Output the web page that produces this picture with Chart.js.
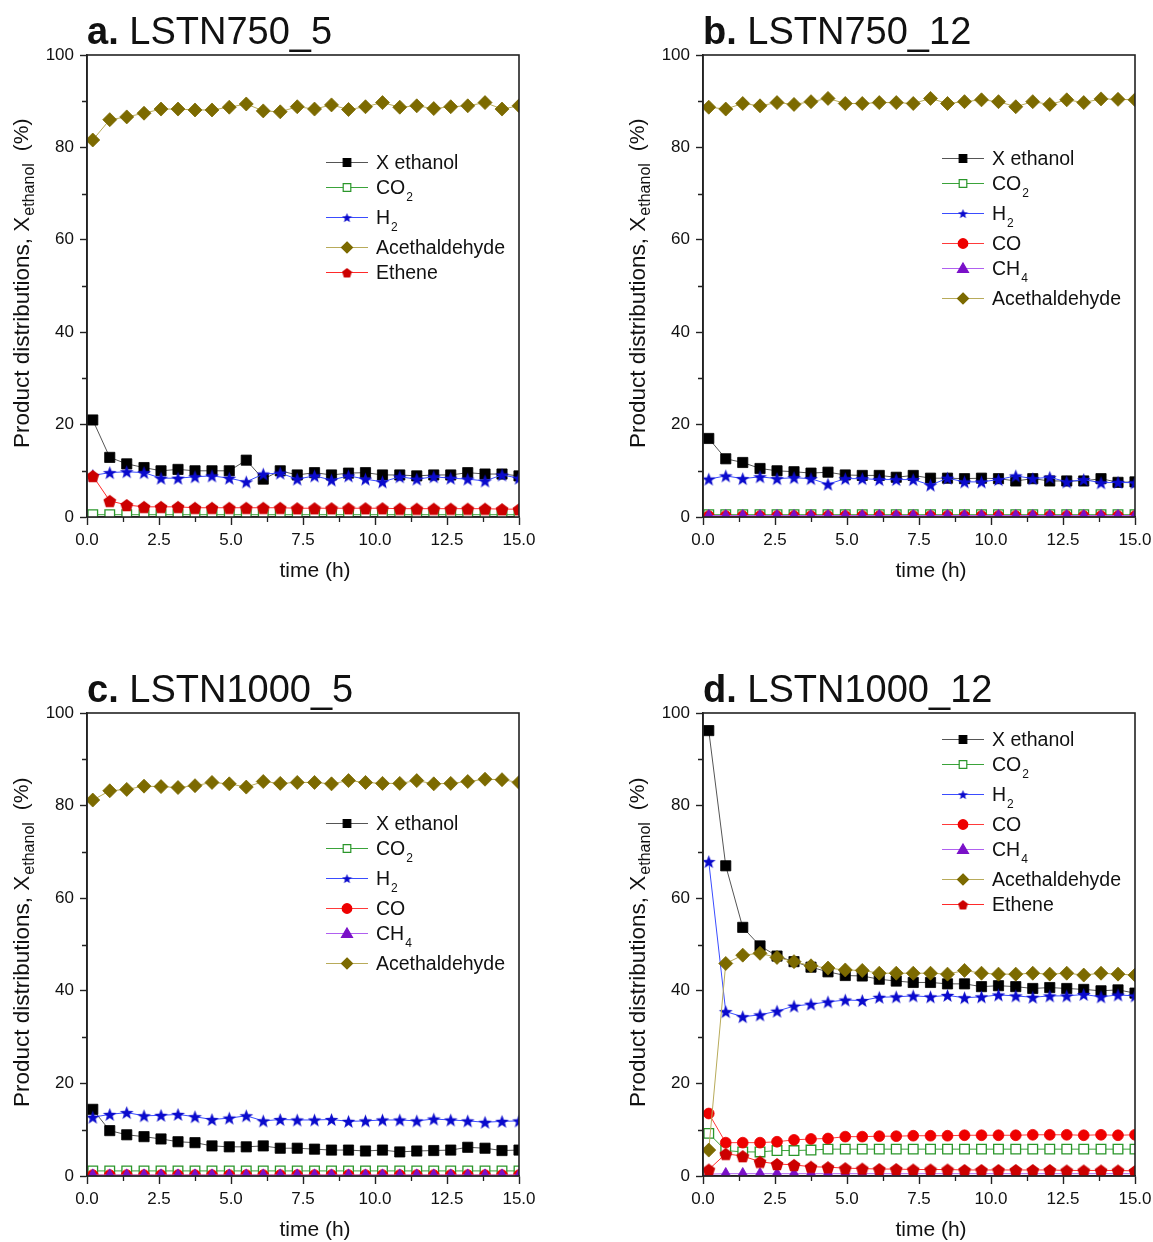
<!DOCTYPE html>
<html>
<head>
<meta charset="utf-8">
<script src="https://cdn.jsdelivr.net/npm/chart.js@4.4.0/dist/chart.umd.min.js"></script>
<style>
  body { margin: 0; background: #fff; }
  #wrap { position: relative; width: 1153px; height: 1242px; }
  canvas { position: absolute; }
</style>
</head>
<body>
<div id="wrap">
  <canvas id="chartA" width="576" height="621" style="left:0;top:0"></canvas>
  <canvas id="chartB" width="577" height="621" style="left:576px;top:0"></canvas>
  <canvas id="chartC" width="576" height="621" style="left:0;top:621px"></canvas>
  <canvas id="chartD" width="577" height="621" style="left:576px;top:621px"></canvas>
</div>
<script>
const FONT = "'Liberation Sans', Arial, sans-serif";

// sampling times (h)
const times = [0.2, 0.79, 1.38, 1.98, 2.57, 3.16, 3.75, 4.34, 4.94, 5.53, 6.12, 6.71, 7.30,
               7.90, 8.49, 9.08, 9.67, 10.26, 10.86, 11.45, 12.04, 12.63, 13.22, 13.82, 14.41, 15.0];

// a. LSTN750_5
const ethanolA = [21.0, 12.9, 11.5, 10.7, 10.0, 10.3, 10.0, 10.0, 10.0, 12.3, 8.2, 10.0, 9.1,
                  9.6, 9.1, 9.5, 9.6, 9.1, 9.1, 8.9, 9.1, 9.1, 9.6, 9.3, 9.3, 8.9];
const co2A = [0.5, 0.5, 0.5, 0.5, 0.5, 0.5, 0.5, 0.5, 0.5, 0.5, 0.5, 0.5, 0.5,
              0.5, 0.5, 0.5, 0.5, 0.5, 0.5, 0.5, 0.5, 0.5, 0.5, 0.5, 0.5, 0.5];
const h2A = [9.0, 9.6, 9.8, 9.6, 8.4, 8.4, 8.7, 8.9, 8.4, 7.6, 9.3, 9.5, 8.2,
             8.9, 8.0, 8.9, 8.2, 7.6, 8.7, 8.2, 8.7, 8.4, 8.2, 7.8, 9.1, 8.4];
const acetA = [81.6, 86.0, 86.6, 87.4, 88.3, 88.3, 88.1, 88.1, 88.7, 89.4, 87.9, 87.7, 88.8,
               88.3, 89.2, 88.2, 88.8, 89.7, 88.7, 89.0, 88.4, 88.8, 89.0, 89.7, 88.3, 89.0];
const etheneA = [8.9, 3.5, 2.6, 2.2, 2.2, 2.2, 2.0, 2.0, 2.0, 2.0, 2.0, 2.0, 1.9,
                 1.9, 1.9, 1.9, 1.9, 1.9, 1.8, 1.8, 1.8, 1.8, 1.8, 1.8, 1.7, 1.7];

// b. LSTN750_12
const ethanolB = [17.0, 12.6, 11.8, 10.5, 10.0, 9.8, 9.5, 9.7, 9.1, 9.0, 9.0, 8.6, 9.0,
                  8.4, 8.4, 8.3, 8.4, 8.3, 7.8, 8.3, 7.8, 7.8, 7.8, 8.3, 7.5, 7.6];
const co2B = [0.5, 0.5, 0.5, 0.5, 0.5, 0.5, 0.5, 0.5, 0.5, 0.5, 0.5, 0.5, 0.5,
              0.5, 0.5, 0.5, 0.5, 0.5, 0.5, 0.5, 0.5, 0.5, 0.5, 0.5, 0.5, 0.5];
const h2B = [8.2, 8.9, 8.3, 8.7, 8.3, 8.5, 8.3, 7.1, 8.3, 8.3, 8.1, 8.1, 8.1,
             6.9, 8.4, 7.6, 7.6, 8.1, 8.9, 8.3, 8.6, 7.6, 8.1, 7.4, 7.5, 7.4];
const coB = [0.2, 0.2, 0.2, 0.2, 0.2, 0.2, 0.2, 0.2, 0.2, 0.2, 0.2, 0.2, 0.2,
             0.2, 0.2, 0.2, 0.2, 0.2, 0.2, 0.2, 0.2, 0.2, 0.2, 0.2, 0.2, 0.2];
const ch4B = [0.3, 0.3, 0.3, 0.3, 0.3, 0.3, 0.3, 0.3, 0.3, 0.3, 0.3, 0.3, 0.3,
              0.3, 0.3, 0.3, 0.3, 0.3, 0.3, 0.3, 0.3, 0.3, 0.3, 0.3, 0.3, 0.3];
const acetB = [88.7, 88.3, 89.5, 89.0, 89.7, 89.3, 89.9, 90.6, 89.5, 89.5, 89.7, 89.7, 89.5,
               90.6, 89.5, 89.9, 90.3, 89.9, 88.8, 89.9, 89.3, 90.3, 89.7, 90.5, 90.4, 90.3];

// c. LSTN1000_5
const ethanolC = [14.4, 9.8, 8.9, 8.5, 8.0, 7.4, 7.2, 6.5, 6.3, 6.3, 6.5, 6.0, 6.0,
                  5.8, 5.6, 5.6, 5.4, 5.6, 5.2, 5.4, 5.5, 5.6, 6.2, 6.0, 5.5, 5.6];
const co2C = [1.1, 1.1, 1.1, 1.1, 1.1, 1.1, 1.1, 1.1, 1.1, 1.1, 1.1, 1.1, 1.1,
              1.1, 1.1, 1.1, 1.1, 1.1, 1.1, 1.1, 1.1, 1.1, 1.1, 1.1, 1.1, 1.1];
const h2C = [12.7, 13.3, 13.7, 13.0, 13.1, 13.3, 12.8, 12.2, 12.5, 13.0, 11.9, 12.2, 12.1,
             12.1, 12.2, 11.8, 11.9, 12.1, 12.1, 11.9, 12.3, 12.1, 11.9, 11.6, 11.8, 11.9];
const coC = [0.2, 0.2, 0.2, 0.2, 0.2, 0.2, 0.2, 0.2, 0.2, 0.2, 0.2, 0.2, 0.2,
             0.2, 0.2, 0.2, 0.2, 0.2, 0.2, 0.2, 0.2, 0.2, 0.2, 0.2, 0.2, 0.2];
const ch4C = [0.2, 0.2, 0.2, 0.2, 0.2, 0.2, 0.2, 0.2, 0.2, 0.2, 0.2, 0.2, 0.2,
              0.2, 0.2, 0.2, 0.2, 0.2, 0.2, 0.2, 0.2, 0.2, 0.2, 0.2, 0.2, 0.2];
const acetC = [81.2, 83.2, 83.5, 84.2, 84.1, 83.9, 84.3, 85.0, 84.7, 84.0, 85.2, 84.8, 85.0,
               85.0, 84.7, 85.4, 85.0, 84.8, 84.8, 85.4, 84.7, 84.8, 85.2, 85.7, 85.6, 85.0];

// d. LSTN1000_12
const ethanolD = [96.2, 67.0, 53.7, 49.7, 47.5, 46.3, 45.1, 44.1, 43.3, 43.2, 42.5, 42.1, 41.8,
                  41.8, 41.5, 41.5, 40.9, 41.1, 40.9, 40.5, 40.7, 40.5, 40.3, 40.0, 40.2, 39.5];
const co2D = [9.2, 5.5, 5.2, 5.2, 5.5, 5.5, 5.6, 5.8, 5.8, 5.8, 5.8, 5.8, 5.8,
              5.8, 5.8, 5.8, 5.8, 5.8, 5.8, 5.8, 5.8, 5.8, 5.8, 5.8, 5.8, 5.8];
const h2D = [67.9, 35.5, 34.4, 34.8, 35.6, 36.7, 37.1, 37.6, 38.0, 37.9, 38.6, 38.7, 38.9,
             38.7, 39.0, 38.5, 38.7, 39.1, 38.9, 38.6, 38.9, 38.9, 39.2, 38.7, 39.1, 38.9];
const coD = [13.5, 7.2, 7.2, 7.2, 7.4, 7.8, 8.0, 8.1, 8.5, 8.5, 8.6, 8.6, 8.7,
             8.7, 8.7, 8.8, 8.8, 8.8, 8.8, 8.9, 8.9, 8.9, 8.8, 8.9, 8.8, 8.9];
const ch4D = [0.4, 0.5, 0.5, 0.5, 0.5, 0.5, 0.5, 0.5, 0.5, 0.5, 0.5, 0.5, 0.5,
              0.5, 0.5, 0.5, 0.5, 0.5, 0.5, 0.5, 0.5, 0.5, 0.5, 0.5, 0.5, 0.5];
const acetD = [5.6, 45.9, 47.7, 48.1, 47.2, 46.3, 45.4, 44.9, 44.5, 44.4, 43.8, 43.8, 43.8,
               43.8, 43.6, 44.4, 43.8, 43.6, 43.6, 43.8, 43.6, 43.8, 43.4, 43.8, 43.6, 43.4];
const etheneD = [1.4, 4.8, 4.3, 3.1, 2.6, 2.4, 2.0, 1.9, 1.7, 1.6, 1.5, 1.5, 1.4,
                 1.4, 1.4, 1.3, 1.3, 1.3, 1.3, 1.3, 1.3, 1.2, 1.2, 1.2, 1.2, 1.1];

const xTicks = ['0.0', '2.5', '5.0', '7.5', '10.0', '12.5', '15.0'];
const yTicks = ['0', '20', '40', '60', '80', '100'];

// filled star / pentagon markers (not built into Chart.js)
function makeShape(kind, size, color) {
  const c = document.createElement('canvas');
  c.width = c.height = size;
  const g = c.getContext('2d');
  const R = size / 2 - 0.3;
  const steps = kind === 'star' ? 10 : 5;
  const cy = kind === 'star' ? size / 2 + 0.6 : size / 2 + 0.8;
  g.beginPath();
  for (let i = 0; i < steps; i++) {
    const rad = (kind === 'star' && i % 2) ? R * 0.42 : R;
    const ang = -Math.PI / 2 + i * 2 * Math.PI / steps;
    const px = size / 2 + rad * Math.cos(ang), py = cy + rad * Math.sin(ang);
    i ? g.lineTo(px, py) : g.moveTo(px, py);
  }
  g.closePath();
  g.fillStyle = color;
  g.fill();
  return c;
}

const styles = {
  'X ethanol':     { text: 'X ethanol', sub: '', marker: 'rect', radius: 7.2, line: '#555', fill: '#000', stroke: '#000' },
  'CO2':           { text: 'CO', sub: '2', marker: 'rect', radius: 6.8, line: '#3aa33a', fill: '#fff', stroke: '#2a962a', open: true },
  'H2':            { text: 'H', sub: '2', marker: makeShape('star', 15, '#0a0acc'), radius: 7, line: '#3a4cff', fill: '#0a0acc', stroke: '#0a0acc', small: makeShape('star', 11, '#0a0acc') },
  'CO':            { text: 'CO', sub: '', marker: 'circle', radius: 5.4, line: '#ff3a3a', fill: '#ee0000', stroke: '#ee0000' },
  'CH4':           { text: 'CH', sub: '4', marker: 'triangle', radius: 6.2, line: '#b060f0', fill: '#7a10c8', stroke: '#7a10c8' },
  'Acethaldehyde': { text: 'Acethaldehyde', sub: '', marker: 'rectRot', radius: 7, line: '#b8ab5a', fill: '#7c6a00', stroke: '#7c6a00' },
  'Ethene':        { text: 'Ethene', sub: '', marker: makeShape('pentagon', 14, '#cc0000'), radius: 7, line: '#ff2a2a', fill: '#cc0000', stroke: '#cc0000', small: makeShape('pentagon', 11, '#cc0000') }
};

function drawLegendMarker(ctx, s, x, y) {
  ctx.fillStyle = s.fill;
  ctx.strokeStyle = s.stroke;
  ctx.lineWidth = 1.2;
  if (s.small) { ctx.drawImage(s.small, x - 5.5, y - 5.5); return; }
  ctx.beginPath();
  if (s.marker === 'rect') ctx.rect(x - 3.8, y - 3.8, 7.6, 7.6);
  else if (s.marker === 'rectRot') { ctx.moveTo(x, y - 5.5); ctx.lineTo(x + 5.5, y); ctx.lineTo(x, y + 5.5); ctx.lineTo(x - 5.5, y); ctx.closePath(); }
  else if (s.marker === 'circle') ctx.arc(x, y, 4.8, 0, Math.PI * 2);
  else if (s.marker === 'triangle') { ctx.moveTo(x, y - 5.5); ctx.lineTo(x + 5.5, y + 4); ctx.lineTo(x - 5.5, y + 4); ctx.closePath(); }
  ctx.fill();
  ctx.stroke();
}

const panelDecor = {
  id: 'panelDecor',
  afterDraw(chart, args, o) {
    const { ctx, chartArea: a } = chart;
    const xs = chart.scales.x, ys = chart.scales.y;
    ctx.save();
    ctx.strokeStyle = '#222';
    ctx.lineWidth = 1.6;
    ctx.strokeRect(a.left, a.top, a.right - a.left, a.bottom - a.top);
    // minor ticks
    ctx.lineWidth = 1.3;
    ctx.beginPath();
    for (let v = 1.25; v < 15; v += 2.5) {
      const px = Math.round(xs.getPixelForValue(v)) + 0.5;
      ctx.moveTo(px, a.bottom); ctx.lineTo(px, a.bottom + 5);
    }
    for (let v = 10; v < 100; v += 20) {
      const py = Math.round(ys.getPixelForValue(v)) + 0.5;
      ctx.moveTo(a.left, py); ctx.lineTo(a.left - 5, py);
    }
    ctx.stroke();

    ctx.fillStyle = '#111';
    ctx.textAlign = 'left';
    ctx.textBaseline = 'alphabetic';
    // panel title
    ctx.font = 'bold 38px ' + FONT;
    ctx.fillText(o.letter, a.left, a.top - 11);
    const lw = ctx.measureText(o.letter).width;
    ctx.font = '38px ' + FONT;
    ctx.fillText(' ' + o.name, a.left + lw, a.top - 11);

    // x title
    ctx.font = '21px ' + FONT;
    ctx.textAlign = 'center';
    ctx.fillText('time (h)', (a.left + a.right) / 2 + 12, a.bottom + 60);

    // y title
    ctx.save();
    ctx.translate(a.left - 58, a.bottom - 69);
    ctx.rotate(-Math.PI / 2);
    ctx.textAlign = 'left';
    ctx.font = '22.5px ' + FONT;
    const main = 'Product distributions, X';
    ctx.fillText(main, 0, 0);
    let w = ctx.measureText(main).width;
    ctx.font = '16px ' + FONT;
    ctx.fillText('ethanol', w + 1, 5);
    w += 1 + ctx.measureText('ethanol').width;
    ctx.font = '21px ' + FONT;
    ctx.fillText('(%)', w + 12, -1);
    ctx.restore();

    // legend
    const x0 = a.left + 239;
    let y = a.top + o.legendTop;
    ctx.textAlign = 'left';
    o.series.forEach(key => {
      const s = styles[key];
      ctx.strokeStyle = s.line;
      ctx.lineWidth = 1.2;
      ctx.beginPath();
      ctx.moveTo(x0, y + 0.5); ctx.lineTo(x0 + 42, y + 0.5);
      ctx.stroke();
      drawLegendMarker(ctx, s, x0 + 21, y + 0.5);
      ctx.fillStyle = '#111';
      ctx.font = '19.5px ' + FONT;
      ctx.fillText(s.text, x0 + 50, y + 7);
      if (s.sub) {
        const tw = ctx.measureText(s.text).width;
        ctx.font = '12px ' + FONT;
        ctx.fillText(s.sub, x0 + 50 + tw + 1, y + 14);
      }
      y += s.sub ? 30 : 25;
    });
    ctx.restore();
  }
};

function makeChart(id, letter, name, series, values, area, legendTop) {
  const canvas = document.getElementById(id);
  const n = series.length;
  const datasets = series.map((key, i) => {
    const s = styles[key];
    return {
      label: key,
      data: values[i].map((v, j) => ({ x: times[j], y: v })),
      borderColor: s.line,
      borderWidth: 1,
      pointStyle: s.marker,
      pointRadius: s.radius,
      pointBackgroundColor: s.fill,
      pointBorderColor: s.stroke,
      pointBorderWidth: s.open ? 1.3 : 0.8,
      tension: 0,
      order: n - i
    };
  });
  return new Chart(canvas, {
    type: 'line',
    data: { datasets },
    options: {
      responsive: false,
      animation: false,
      events: [],
      layout: {
        padding: { left: 0, top: area.top, right: canvas.width - area.right, bottom: canvas.height - area.bottom - 60 }
      },
      scales: {
        x: {
          type: 'linear', min: 0, max: 15,
          afterFit: sc => { sc.height = 60; sc.paddingLeft = 0; sc.paddingRight = 0; },
          border: { display: true, color: '#222', width: 1.6 },
          grid: { drawOnChartArea: false, drawTicks: true, tickLength: 8, tickColor: '#222', tickWidth: 1.4 },
          ticks: {
            stepSize: 2.5, padding: 5, color: '#111', maxRotation: 0,
            font: { family: FONT, size: 17 },
            callback: v => xTicks[Math.round(v / 2.5)]
          }
        },
        y: {
          min: 0, max: 100,
          afterFit: sc => { sc.width = area.left; sc.paddingTop = 0; sc.paddingBottom = 0; },
          border: { display: true, color: '#222', width: 1.6 },
          grid: { drawOnChartArea: false, drawTicks: true, tickLength: 7, tickColor: '#222', tickWidth: 1.4 },
          ticks: {
            stepSize: 20, padding: 6, color: '#111',
            font: { family: FONT, size: 17 },
            callback: v => yTicks[Math.round(v / 20)]
          }
        }
      },
      plugins: {
        legend: { display: false },
        tooltip: { enabled: false },
        panelDecor: { letter, name, series, legendTop }
      }
    },
    plugins: [panelDecor]
  });
}

makeChart('chartA', 'a.', 'LSTN750_5',
  ['X ethanol', 'CO2', 'H2', 'Acethaldehyde', 'Ethene'],
  [ethanolA, co2A, h2A, acetA, etheneA],
  { left: 87, top: 55, right: 519, bottom: 517 }, 107);

makeChart('chartB', 'b.', 'LSTN750_12',
  ['X ethanol', 'CO2', 'H2', 'CO', 'CH4', 'Acethaldehyde'],
  [ethanolB, co2B, h2B, coB, ch4B, acetB],
  { left: 127, top: 55, right: 559, bottom: 517 }, 103);

makeChart('chartC', 'c.', 'LSTN1000_5',
  ['X ethanol', 'CO2', 'H2', 'CO', 'CH4', 'Acethaldehyde'],
  [ethanolC, co2C, h2C, coC, ch4C, acetC],
  { left: 87, top: 92, right: 519, bottom: 555 }, 110);

makeChart('chartD', 'd.', 'LSTN1000_12',
  ['X ethanol', 'CO2', 'H2', 'CO', 'CH4', 'Acethaldehyde', 'Ethene'],
  [ethanolD, co2D, h2D, coD, ch4D, acetD, etheneD],
  { left: 127, top: 92, right: 559, bottom: 555 }, 26);
</script>
</body>
</html>
